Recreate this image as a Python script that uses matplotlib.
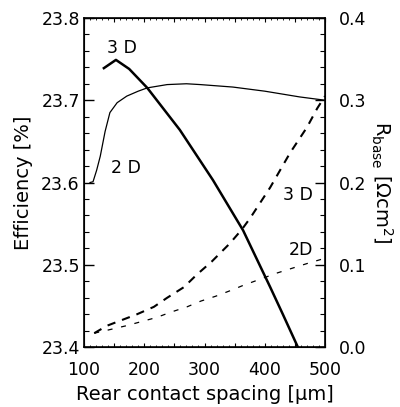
import matplotlib.pyplot as plt
from matplotlib.ticker import MultipleLocator, FuncFormatter

plt.rcParams['font.family'] = ['DejaVu Sans']

# efficiency curves (left axis)
eff3d_x = [133, 153, 175, 205, 259, 314, 364, 409, 430, 455]
eff3d_y = [23.739, 23.749, 23.738, 23.715, 23.664, 23.603, 23.542, 23.473, 23.440, 23.40]
eff2d_x = [110, 115, 121, 127, 135, 143, 155, 171, 190, 205, 238, 270, 293, 347, 400, 458, 500]
eff2d_y = [23.600, 23.601, 23.615, 23.632, 23.662, 23.685, 23.697, 23.705, 23.711, 23.715,
           23.719, 23.720, 23.719, 23.716, 23.711, 23.704, 23.700]

# base resistance curves (right axis)
r3d_x = [117, 138, 163, 188, 216, 238, 266, 287, 312, 342, 362, 376, 409, 442, 470, 487, 500]
r3d_y = [0.017, 0.026, 0.033, 0.040, 0.049, 0.060, 0.073, 0.088, 0.104, 0.126, 0.143, 0.157,
         0.194, 0.236, 0.267, 0.290, 0.305]
r2d_x = [117, 141, 170, 195, 220, 246, 271, 294, 319, 344, 364, 420, 472, 500]
r2d_y = [0.017, 0.021, 0.026, 0.031, 0.036, 0.043, 0.049, 0.056, 0.062, 0.069, 0.075,
         0.090, 0.102, 0.108]

fig = plt.figure(figsize=(4.0, 4.07), dpi=100)
ax = fig.add_axes([0.21, 0.147, 0.6025, 0.809])
ax2 = ax.twinx()

ax.plot(eff3d_x, eff3d_y, color='black', lw=1.8)
ax.plot(eff2d_x, eff2d_y, color='black', lw=0.9)
ax2.plot(r3d_x, r3d_y, color='black', lw=1.5, ls=(0, (4, 3.4)))
ax2.plot(r2d_x, r2d_y, color='black', lw=0.9, ls=(0, (4, 7)))

ax.set_xlim(100, 500)
ax.set_ylim(23.4, 23.8)
ax2.set_ylim(0.0, 0.4)

ax.xaxis.set_major_locator(MultipleLocator(50))
ax.xaxis.set_major_formatter(FuncFormatter(lambda v, p: '%d' % v if v % 100 == 0 else ''))
ax.xaxis.set_minor_locator(MultipleLocator(10))
ax.yaxis.set_major_locator(MultipleLocator(0.1))
ax.yaxis.set_minor_locator(MultipleLocator(0.02))
ax.yaxis.set_major_formatter(FuncFormatter(lambda v, p: '%.1f' % v))
ax2.yaxis.set_major_locator(MultipleLocator(0.1))
ax2.yaxis.set_minor_locator(MultipleLocator(0.02))
ax2.yaxis.set_major_formatter(FuncFormatter(lambda v, p: '%.1f' % v))

ax.tick_params(axis='x', which='both', direction='in', top=True, labelsize=12.5, pad=10)
ax.tick_params(axis='x', which='major', length=3, width=0.8)
ax.tick_params(axis='x', which='minor', length=1.5, width=0.6)
ax.tick_params(axis='y', which='both', direction='in', labelsize=12.5, pad=3)
ax.tick_params(axis='y', which='major', length=7, width=1)
ax.tick_params(axis='y', which='minor', length=3.5, width=0.8)
ax2.tick_params(which='both', direction='in', labelsize=12.5, pad=10)
ax2.tick_params(which='major', length=7, width=1)
ax2.tick_params(which='minor', length=3.5, width=0.8)

ax.set_xlabel('Rear contact spacing [\u03bcm]', fontsize=14, labelpad=4)
ax.set_ylabel('Efficiency [%]', fontsize=14, labelpad=6)
ax2.set_ylabel(r'R$_{\mathregular{base}}$ [$\Omega$cm$^{\mathregular{2}}$]', fontsize=14,
               rotation=270, labelpad=20)

for sp in ax2.spines.values():
    sp.set_linewidth(1.2)

ax.text(163, 23.764, '3 D', fontsize=12.5, ha='center', va='center')
ax.text(170, 23.618, '2 D', fontsize=12.5, ha='center', va='center')
ax.text(455, 23.585, '3 D', fontsize=12.5, ha='center', va='center')
ax.text(460, 23.518, '2D', fontsize=12.5, ha='center', va='center')

fig.savefig('out.png', dpi=100)
